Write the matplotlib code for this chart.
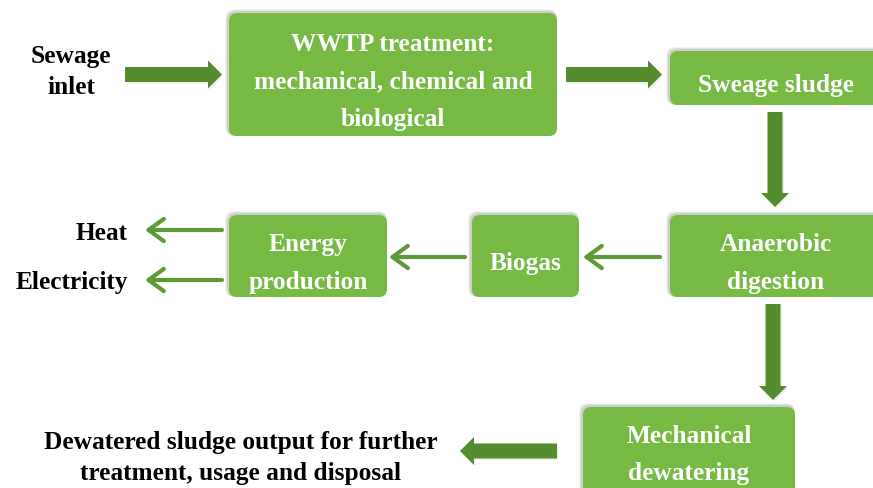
import matplotlib.pyplot as plt
from matplotlib.patches import FancyBboxPatch, FancyArrow, FancyArrowPatch

# boxes: label, (x0, y0, x1, y1) in pixel units
box_labels = ["WWTP treatment:\nmechanical, chemical and\nbiological",
              "Sweage sludge",
              "Anaerobic\ndigestion",
              "Biogas",
              "Energy\nproduction",
              "Mechanical\ndewatering"]
box_rects = [(229, 14, 557, 137),
             (670, 52, 882, 106),
             (670, 216, 882, 298),
             (472, 216, 579, 298),
             (229, 216, 387, 298),
             (583, 408, 795, 500)]

# free text outside the boxes
side_labels = ["Sewage\ninlet", "Heat", "Electricity",
               "Dewatered sludge output for further\ntreatment, usage and disposal"]
side_pos = [(71, 72, 'center'), (128, 234, 'right'), (128, 283, 'right'), (241, 458, 'center')]

# thick arrows (x0, y0, x1, y1)
big_arrows = [(125, 75.5, 222, 75.5),
              (566, 75.5, 662, 75.5),
              (775, 113, 775, 208),
              (773, 305, 773, 401),
              (557, 452, 460, 452)]
# thin arrows
thin_arrows = [(660, 258, 583, 258),
               (465, 258, 389, 258),
               (222, 231, 145, 231),
               (222, 281, 145, 281)]

box_green = '#76B943'
arrow_green = '#548C2E'
thin_green = '#5E9A36'
font = ['Liberation Serif', 'DejaVu Serif']

fig = plt.figure(figsize=(8.73, 4.89), dpi=100)
ax = fig.add_axes([0, 0, 1, 1])
ax.set_xlim(0, 873)
ax.set_ylim(489, 0)
ax.axis('off')

for label, (x0, y0, x1, y1) in zip(box_labels, box_rects):
    # soft shadow up-left
    for k, a in [(4, 0.07), (3, 0.1), (2, 0.14)]:
        sh = FancyBboxPatch((x0 - k, y0 - k), x1 - x0 + k, y1 - y0 + k,
                            boxstyle="round,pad=0,rounding_size=9",
                            fc='#555555', ec='none', alpha=a, zorder=1)
        ax.add_patch(sh)
    b = FancyBboxPatch((x0, y0), x1 - x0, y1 - y0, boxstyle="round,pad=0,rounding_size=8",
                       fc=box_green, ec='none', zorder=2)
    ax.add_patch(b)
    cx = (x0 + x1) / 2
    cy = (y0 + min(y1, 489)) / 2 + 6.5
    ax.text(cx, cy, label, color='white', fontsize=18.3, fontweight='bold', family=font,
            ha='center', va='center', linespacing=1.78, zorder=3)

for label, (x, y, ha) in zip(side_labels, side_pos):
    ax.text(x, y, label, color='black', fontsize=18.3, fontweight='bold', family=font,
            ha=ha, va='center', linespacing=1.4, zorder=3)

for x0, y0, x1, y1 in big_arrows:
    ax.add_patch(FancyArrow(x0 + 1.5, y0 + 1.5, x1 - x0, y1 - y0, width=15, head_width=28,
                            head_length=14, length_includes_head=True,
                            fc='#888888', ec='none', alpha=0.12, zorder=1))
    ax.add_patch(FancyArrow(x0, y0, x1 - x0, y1 - y0, width=15, head_width=28, head_length=14,
                            length_includes_head=True, fc=arrow_green, ec='none', zorder=2))

for x0, y0, x1, y1 in thin_arrows:
    ax.add_patch(FancyArrowPatch((x0, y0), (x1, y1),
                                 arrowstyle='->,head_length=0.55,head_width=0.4',
                                 mutation_scale=20, color=thin_green, lw=3,
                                 shrinkA=0, shrinkB=0, zorder=2))

fig.savefig('out.png', dpi=100)
